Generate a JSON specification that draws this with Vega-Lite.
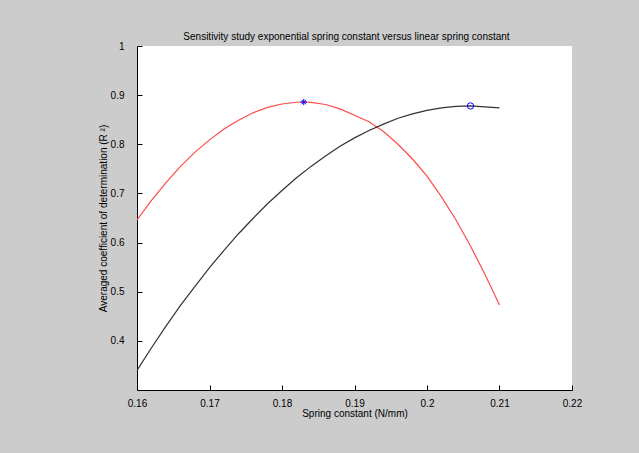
{
  "$schema": "https://vega.github.io/schema/vega-lite/v6.json",
  "width": 435,
  "height": 344,
  "autosize": "none",
  "padding": {"left": 137, "top": 46, "right": 67, "bottom": 63},
  "background": "#cccccc",
  "config": {
    "view": {"stroke": null, "fill": "white"},
    "font": "Liberation Sans",
    "axis": {
      "grid": false,
      "domainColor": "black",
      "tickColor": "black",
      "labelColor": "black",
      "titleColor": "black",
      "labelFontSize": 10,
      "titleFontSize": 10,
      "titleFontWeight": "normal",
      "tickSize": -5,
      "domainWidth": 1,
      "tickWidth": 1,
      "labelFlush": false
    }
  },
  "title": {
    "text": "Sensitivity study exponential spring constant versus linear spring constant",
    "fontSize": 10,
    "fontWeight": "normal",
    "color": "black",
    "anchor": "middle",
    "offset": -1,
    "dx": -8
  },
  "datasets": {
    "curves": [
      {"spring_constant": 0.160, "r2": 0.646, "model": "exponential"},
      {"spring_constant": 0.162, "r2": 0.686, "model": "exponential"},
      {"spring_constant": 0.164, "r2": 0.722, "model": "exponential"},
      {"spring_constant": 0.166, "r2": 0.755, "model": "exponential"},
      {"spring_constant": 0.168, "r2": 0.784, "model": "exponential"},
      {"spring_constant": 0.170, "r2": 0.809, "model": "exponential"},
      {"spring_constant": 0.172, "r2": 0.831, "model": "exponential"},
      {"spring_constant": 0.174, "r2": 0.849, "model": "exponential"},
      {"spring_constant": 0.176, "r2": 0.864, "model": "exponential"},
      {"spring_constant": 0.178, "r2": 0.875, "model": "exponential"},
      {"spring_constant": 0.180, "r2": 0.882, "model": "exponential"},
      {"spring_constant": 0.182, "r2": 0.8855, "model": "exponential"},
      {"spring_constant": 0.183, "r2": 0.886, "model": "exponential"},
      {"spring_constant": 0.184, "r2": 0.8854, "model": "exponential"},
      {"spring_constant": 0.186, "r2": 0.881, "model": "exponential"},
      {"spring_constant": 0.188, "r2": 0.872, "model": "exponential"},
      {"spring_constant": 0.190, "r2": 0.859, "model": "exponential"},
      {"spring_constant": 0.192, "r2": 0.846, "model": "exponential"},
      {"spring_constant": 0.194, "r2": 0.826, "model": "exponential"},
      {"spring_constant": 0.196, "r2": 0.800, "model": "exponential"},
      {"spring_constant": 0.198, "r2": 0.770, "model": "exponential"},
      {"spring_constant": 0.200, "r2": 0.735, "model": "exponential"},
      {"spring_constant": 0.202, "r2": 0.693, "model": "exponential"},
      {"spring_constant": 0.204, "r2": 0.646, "model": "exponential"},
      {"spring_constant": 0.206, "r2": 0.593, "model": "exponential"},
      {"spring_constant": 0.208, "r2": 0.535, "model": "exponential"},
      {"spring_constant": 0.210, "r2": 0.473, "model": "exponential"},
      {"spring_constant": 0.160, "r2": 0.340, "model": "linear"},
      {"spring_constant": 0.162, "r2": 0.386, "model": "linear"},
      {"spring_constant": 0.164, "r2": 0.430, "model": "linear"},
      {"spring_constant": 0.166, "r2": 0.472, "model": "linear"},
      {"spring_constant": 0.168, "r2": 0.511, "model": "linear"},
      {"spring_constant": 0.170, "r2": 0.549, "model": "linear"},
      {"spring_constant": 0.172, "r2": 0.584, "model": "linear"},
      {"spring_constant": 0.174, "r2": 0.618, "model": "linear"},
      {"spring_constant": 0.176, "r2": 0.649, "model": "linear"},
      {"spring_constant": 0.178, "r2": 0.679, "model": "linear"},
      {"spring_constant": 0.180, "r2": 0.706, "model": "linear"},
      {"spring_constant": 0.182, "r2": 0.732, "model": "linear"},
      {"spring_constant": 0.184, "r2": 0.755, "model": "linear"},
      {"spring_constant": 0.186, "r2": 0.776, "model": "linear"},
      {"spring_constant": 0.188, "r2": 0.796, "model": "linear"},
      {"spring_constant": 0.190, "r2": 0.813, "model": "linear"},
      {"spring_constant": 0.192, "r2": 0.828, "model": "linear"},
      {"spring_constant": 0.194, "r2": 0.841, "model": "linear"},
      {"spring_constant": 0.196, "r2": 0.853, "model": "linear"},
      {"spring_constant": 0.198, "r2": 0.862, "model": "linear"},
      {"spring_constant": 0.200, "r2": 0.869, "model": "linear"},
      {"spring_constant": 0.202, "r2": 0.874, "model": "linear"},
      {"spring_constant": 0.204, "r2": 0.877, "model": "linear"},
      {"spring_constant": 0.206, "r2": 0.878, "model": "linear"},
      {"spring_constant": 0.208, "r2": 0.876, "model": "linear"},
      {"spring_constant": 0.210, "r2": 0.874, "model": "linear"}
    ],
    "peaks": [
      {"spring_constant": 0.183, "r2": 0.886, "model": "exponential"},
      {"spring_constant": 0.206, "r2": 0.878, "model": "linear"}
    ]
  },
  "layer": [
    {
      "data": {"name": "curves"},
      "mark": {"type": "line", "strokeWidth": 1.2, "clip": true},
      "encoding": {
        "x": {
          "field": "spring_constant",
          "type": "quantitative",
          "scale": {"domain": [0.16, 0.22], "nice": false, "zero": false},
          "axis": {"values": [0.16, 0.17, 0.18, 0.19, 0.2, 0.21, 0.22], "format": "~g", "labelPadding": 13, "titlePadding": 0},
          "title": "Spring constant (N/mm)"
        },
        "y": {
          "field": "r2",
          "type": "quantitative",
          "scale": {"domain": [0.3, 1], "nice": false, "zero": false},
          "axis": {"values": [0.4, 0.5, 0.6, 0.7, 0.8, 0.9, 1], "format": "~g", "labelPadding": 18, "titlePadding": 2},
          "title": "Averaged coefficient of determination (R ²)"
        },
        "color": {
          "field": "model",
          "type": "nominal",
          "scale": {"domain": ["exponential", "linear"], "range": ["#ff4a4a", "#333333"]},
          "legend": null
        }
      }
    },
    {
      "data": {"name": "peaks"},
      "mark": {"type": "point", "filled": false, "color": "#0000ff", "strokeWidth": 1, "opacity": 1},
      "encoding": {
        "x": {"field": "spring_constant", "type": "quantitative"},
        "y": {"field": "r2", "type": "quantitative"},
        "shape": {
          "field": "model",
          "type": "nominal",
          "scale": {"domain": ["exponential", "linear"], "range": ["M-1,0L1,0M0,-1L0,1M-0.7,-0.7L0.7,0.7M-0.7,0.7L0.7,-0.7", "circle"]},
          "legend": null
        },
        "size": {"value": 40}
      }
    }
  ]
}
